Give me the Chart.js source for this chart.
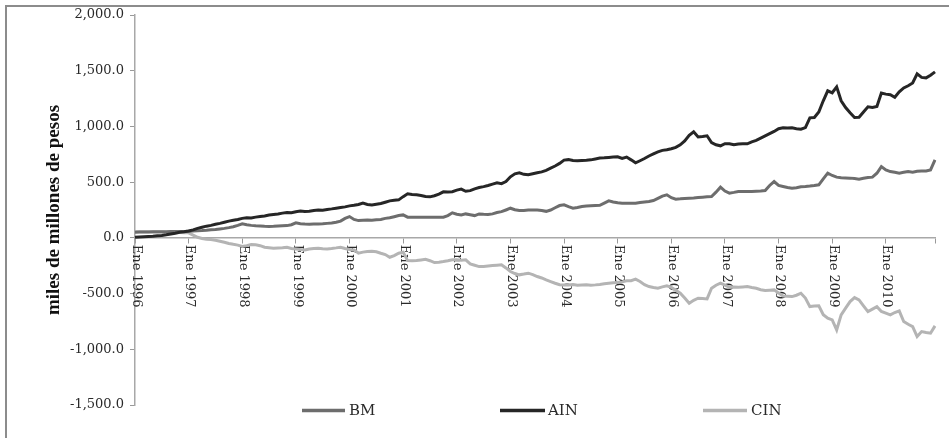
<!DOCTYPE html>
<html><head><meta charset="utf-8">
<script src="https://cdn.jsdelivr.net/npm/chart.js@4.4.1/dist/chart.umd.min.js"></script>
<style>html,body{margin:0;padding:0;background:#fff;}#wrap{width:949px;height:438px;}</style>
</head><body><div id="wrap"><canvas id="c" width="949" height="438"></canvas></div>
<script>
const years = [1996,1997,1998,1999,2000,2001,2002,2003,2004,2005,2006,2007,2008,2009,2010];
const monthNames = ['Ene','Feb','Mar','Abr','May','Jun','Jul','Ago','Sep','Oct','Nov','Dic'];
const yearTickLabels = ['Ene 1996','Ene 1997','Ene 1998','Ene 1999','Ene 2000','Ene 2001','Ene 2002','Ene 2003','Ene 2004','Ene 2005','Ene 2006','Ene 2007','Ene 2008','Ene 2009','Ene 2010'];
const yTickValues = [-1500,-1000,-500,0,500,1000,1500,2000];
const seriesNames = ['BM','AIN','CIN'];

const BM = [
50,52,52,53,54,54,55,55,56,57,58,58,
60,62,63,65,68,72,75,80,85,92,100,112,
126,118,112,108,106,104,103,104,106,108,110,118,
135,126,124,123,124,125,126,130,134,140,150,175,
191,165,155,158,160,158,162,165,175,180,190,200,
206,186,186,186,186,185,186,186,186,186,200,225,
212,206,215,208,200,215,212,210,215,227,235,250,
266,252,245,246,250,251,250,245,238,250,270,290,
296,280,266,272,281,285,288,290,292,312,332,322,
315,311,311,311,311,318,322,326,335,355,375,386,
360,347,350,354,356,358,362,365,368,371,410,455,
420,401,408,416,416,416,416,418,420,425,470,505,
470,461,452,446,450,458,461,465,470,476,530,581,
560,545,540,538,536,532,527,535,542,545,580,640,
610,595,588,581,588,595,590,598,601,601,610,700];

const AIN = [
5,8,10,12,14,18,22,28,35,42,50,55,
62,72,85,95,105,112,122,130,140,150,158,165,
175,180,178,186,192,197,205,210,214,222,228,226,
235,240,236,238,246,250,248,255,260,266,272,278,
287,292,300,312,300,296,302,308,320,332,338,341,
370,395,390,386,380,372,368,378,392,413,412,414,
428,438,418,424,440,452,460,470,482,494,486,505,
548,575,584,570,566,575,584,592,606,625,645,668,
698,702,695,691,694,696,700,708,716,718,722,725,
727,712,725,700,673,692,712,735,754,772,785,790,
800,812,835,870,920,952,905,910,916,855,835,826,
845,845,835,842,845,844,862,875,895,915,935,955,
980,987,985,987,980,975,990,1077,1080,1130,1230,1320,
1302,1355,1230,1170,1122,1080,1082,1130,1176,1170,1180,1300,
1290,1284,1262,1310,1345,1365,1390,1472,1440,1436,1460,1490];

const CIN = [
55,55,54,54,53,52,52,50,50,48,48,46,
45,25,5,-5,-12,-15,-22,-30,-40,-50,-58,-65,
-78,-70,-60,-62,-70,-84,-88,-93,-90,-88,-84,-95,
-99,-104,-108,-100,-95,-93,-97,-99,-95,-90,-84,-95,
-105,-108,-138,-128,-123,-120,-125,-138,-150,-174,-160,-138,
-128,-204,-206,-204,-198,-192,-205,-222,-218,-212,-205,-197,
-197,-200,-197,-234,-246,-258,-256,-252,-248,-245,-242,-270,
-302,-320,-332,-325,-317,-330,-347,-360,-377,-392,-407,-420,
-422,-422,-418,-425,-422,-420,-425,-422,-418,-412,-407,-403,
-401,-395,-385,-385,-371,-392,-420,-437,-445,-452,-440,-431,
-445,-470,-497,-540,-587,-560,-542,-545,-548,-452,-425,-407,
-425,-443,-440,-443,-440,-437,-445,-452,-465,-473,-470,-467,
-495,-521,-524,-527,-515,-497,-540,-617,-612,-610,-690,-721,
-736,-826,-691,-630,-572,-536,-557,-610,-662,-640,-617,-660,
-676,-691,-670,-655,-751,-775,-796,-886,-841,-850,-856,-790];

const categories = [];
years.forEach(y => monthNames.forEach(m => categories.push(m + ' ' + y)));

const colors = {BM:'#6d6d6d', AIN:'#262626', CIN:'#b4b4b4'};
const SERIF = '"DejaVu Serif", serif';
const TIMES = '"Liberation Serif", serif';

const framePlugin = {
  id:'frame',
  beforeDraw(chart){
    const ctx = chart.ctx;
    ctx.save();
    ctx.fillStyle = '#fff';
    ctx.fillRect(0,0,chart.width,chart.height);
    ctx.strokeStyle = '#8c8c8c';
    ctx.lineWidth = 2;
    ctx.strokeRect(6,6,1100,1100);
    ctx.restore();
  }
};

const xLabelPlugin = {
  id:'xlabels',
  beforeDatasetsDraw(chart){
    const ctx = chart.ctx, xs = chart.scales.x, ys = chart.scales.y;
    const y0 = ys.getPixelForValue(0) + 7;
    ctx.save();
    ctx.font = '13px ' + SERIF;
    ctx.fillStyle = '#2a2a2a';
    ctx.textAlign = 'left';
    ctx.textBaseline = 'middle';
    yearTickLabels.forEach((lab, i) => {
      const x = xs.getPixelForValue(i * 12) + 1;
      ctx.save();
      ctx.translate(x, y0);
      ctx.rotate(Math.PI / 2);
      ctx.fillText(lab, 0, 0);
      ctx.restore();
    });
    ctx.restore();
  }
};

const legendPlugin = {
  id:'customLegend',
  afterDraw(chart){
    const ctx = chart.ctx;
    const items = [
      {x1:302, x2:345, tx:349},
      {x1:500, x2:545, tx:548},
      {x1:703, x2:747, tx:751}
    ];
    const y = 410.5;
    ctx.save();
    ctx.font = '15px ' + SERIF;
    ctx.textBaseline = 'middle';
    ctx.textAlign = 'left';
    chart.data.datasets.forEach((ds, i) => {
      const it = items[i];
      ctx.strokeStyle = ds.borderColor;
      ctx.lineWidth = 3.5;
      ctx.beginPath();
      ctx.moveTo(it.x1, y);
      ctx.lineTo(it.x2, y);
      ctx.stroke();
      ctx.fillStyle = '#2a2a2a';
      ctx.fillText(ds.label, it.tx, y + 1);
    });
    ctx.restore();
  }
};

new Chart(document.getElementById('c'), {
  type:'line',
  data:{
    labels: categories,
    datasets: [
      {label:seriesNames[0], data:BM, borderColor:colors.BM, borderWidth:3, pointRadius:0, tension:0, order:2},
      {label:seriesNames[1], data:AIN, borderColor:colors.AIN, borderWidth:3, pointRadius:0, tension:0, order:1},
      {label:seriesNames[2], data:CIN, borderColor:colors.CIN, borderWidth:3, pointRadius:0, tension:0, order:3}
    ]
  },
  options:{
    responsive:false,
    animation:false,
    devicePixelRatio:1,
    layout:{padding:{left:0, top:15, right:14, bottom:33}},
    plugins:{legend:{display:false}, tooltip:{enabled:false}},
    scales:{
      x:{
        type:'category',
        position:{y:0},
        offset:false,
        grid:{
          drawOnChartArea:false,
          drawTicks:true,
          tickLength:5,
          color:(c) => (c.index % 12 === 0 || c.index === categories.length - 1) ? '#999' : 'rgba(0,0,0,0)'
        },
        border:{display:true, color:'#a8a8a8', width:1.5},
        ticks:{display:false, autoSkip:false, maxRotation:0}
      },
      y:{
        min:-1500, max:2000,
        afterBuildTicks(scale){ scale.ticks = yTickValues.map(v => ({value:v})); },
        afterFit(scale){ scale.width = 135; },
        grid:{drawOnChartArea:false, drawTicks:true, tickLength:5, color:'#999'},
        border:{display:true, color:'#a8a8a8', width:1.5},
        ticks:{
          padding:6,
          color:'#2a2a2a',
          font:{family:SERIF, size:13},
          callback:(v) => Number(v).toLocaleString('en-US',{minimumFractionDigits:1, maximumFractionDigits:1})
        },
        title:{
          display:true,
          text:'miles de millones de pesos',
          color:'#111',
          font:{family:TIMES, size:19, weight:'bold'},
          padding:{top:43, bottom:0}
        }
      }
    }
  },
  plugins:[framePlugin, xLabelPlugin, legendPlugin]
});
</script></body></html>
